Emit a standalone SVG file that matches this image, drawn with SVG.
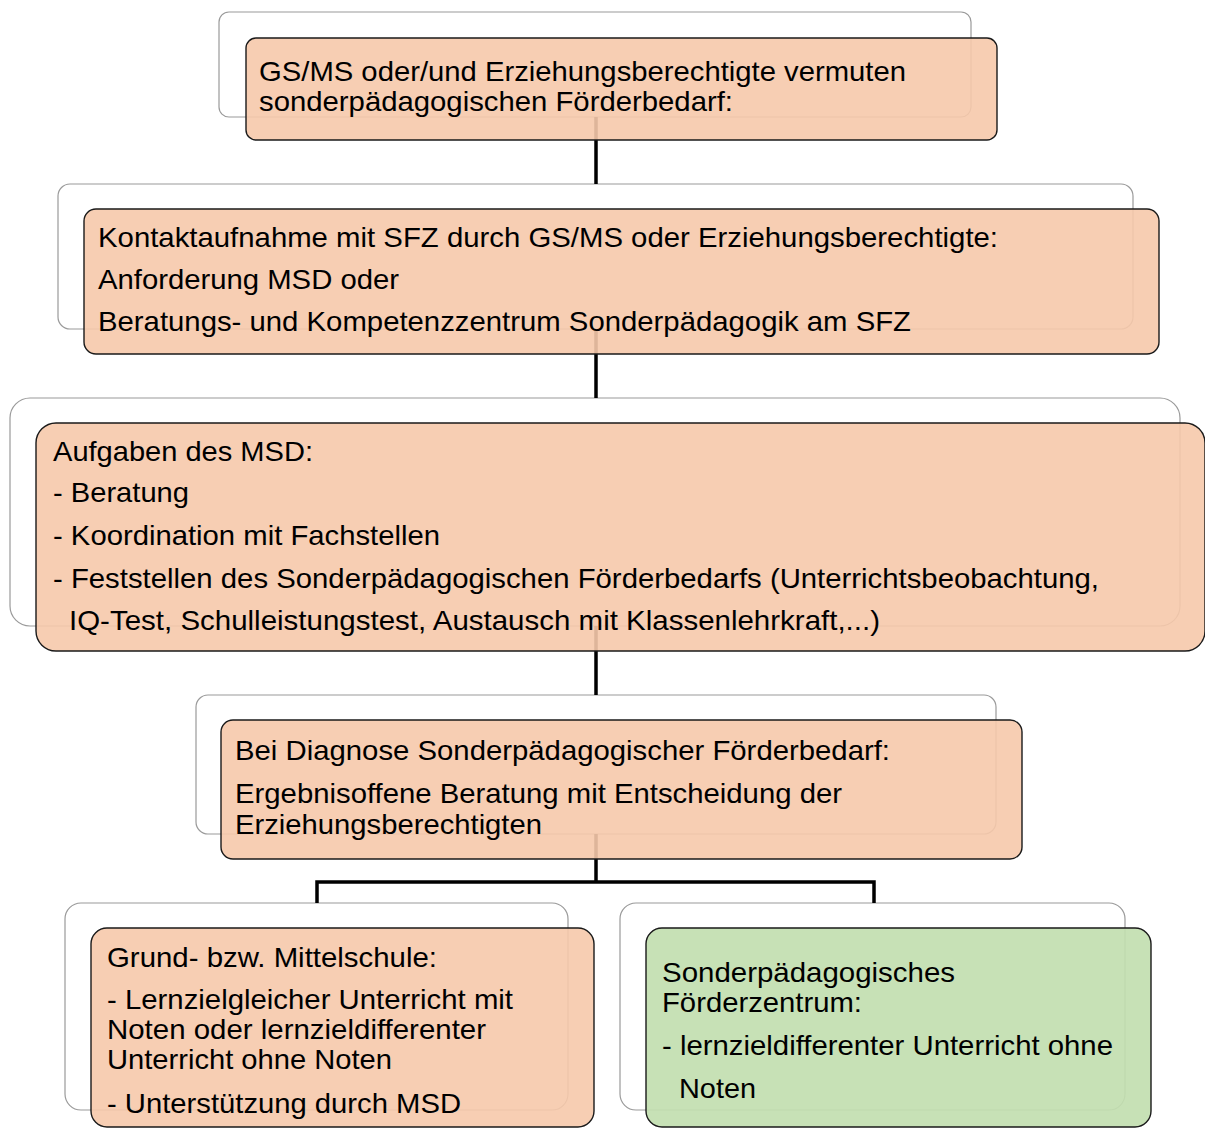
<svg xmlns="http://www.w3.org/2000/svg" width="1205" height="1128" viewBox="0 0 1205 1128">
  <style>
    .back { fill: #ffffff; stroke: #9a9a9a; stroke-width: 1.2; }
    .front { fill: #F6C9AB; fill-opacity: 0.9; stroke: #1a1a1a; stroke-width: 1.4; }
    .green { fill: #C2DEB0; fill-opacity: 0.92; stroke: #1a1a1a; stroke-width: 1.4; }
    .link { fill: none; stroke: #000000; stroke-width: 3.5; }
    text { font-family: "Liberation Sans", Arial, sans-serif; font-size: 28.5px; fill: #000000; }
  </style>

  <!-- background panels of every node -->
  <g id="panels">
    <rect class="back" x="219" y="12" width="752" height="105" rx="10"/>
    <rect class="back" x="58" y="184" width="1075" height="145" rx="12"/>
    <rect class="back" x="10" y="398" width="1170" height="228" rx="20"/>
    <rect class="back" x="196" y="695" width="800" height="139" rx="12"/>
    <rect class="back" x="65" y="903" width="503" height="207" rx="16"/>
    <rect class="back" x="620" y="903" width="505" height="207" rx="16"/>
  </g>

  <!-- connectors -->
  <g id="connectors">
    <line class="link" x1="596" y1="117" x2="596" y2="184"/>
    <line class="link" x1="596" y1="329" x2="596" y2="398"/>
    <line class="link" x1="596" y1="626" x2="596" y2="695"/>
    <polyline class="link" points="596,834 596,882"/>
    <polyline class="link" points="317,903 317,882 874,882 874,903"/>
  </g>

  <g id="node-verdacht">
    <rect class="front" x="246" y="38" width="751" height="102" rx="10"/>
    <text x="259" y="81" textLength="647" lengthAdjust="spacingAndGlyphs">GS/MS oder/und Erziehungsberechtigte vermuten</text>
    <text x="259" y="111" textLength="474" lengthAdjust="spacingAndGlyphs">sonderpädagogischen Förderbedarf:</text>
  </g>

  <g id="node-kontakt">
    <rect class="front" x="84" y="209" width="1075" height="145" rx="12"/>
    <text x="98" y="247" textLength="900" lengthAdjust="spacingAndGlyphs">Kontaktaufnahme mit SFZ durch GS/MS oder Erziehungsberechtigte:</text>
    <text x="98" y="289" textLength="301" lengthAdjust="spacingAndGlyphs">Anforderung MSD oder</text>
    <text x="98" y="331" textLength="813" lengthAdjust="spacingAndGlyphs">Beratungs- und Kompetenzzentrum Sonderpädagogik am SFZ</text>
  </g>

  <g id="node-msd">
    <rect class="front" x="36" y="423" width="1169" height="228" rx="20"/>
    <text x="53" y="461" textLength="260" lengthAdjust="spacingAndGlyphs">Aufgaben des MSD:</text>
    <text x="53" y="502" textLength="136" lengthAdjust="spacingAndGlyphs">- Beratung</text>
    <text x="53" y="545" textLength="387" lengthAdjust="spacingAndGlyphs">- Koordination mit Fachstellen</text>
    <text x="53" y="588" textLength="1046" lengthAdjust="spacingAndGlyphs">- Feststellen des Sonderpädagogischen Förderbedarfs (Unterrichtsbeobachtung,</text>
    <text x="69" y="630" textLength="811" lengthAdjust="spacingAndGlyphs">IQ-Test, Schulleistungstest, Austausch mit Klassenlehrkraft,...)</text>
  </g>

  <g id="node-diagnose">
    <rect class="front" x="221" y="720" width="801" height="139" rx="12"/>
    <text x="235" y="760" textLength="655" lengthAdjust="spacingAndGlyphs">Bei Diagnose Sonderpädagogischer Förderbedarf:</text>
    <text x="235" y="803" textLength="607" lengthAdjust="spacingAndGlyphs">Ergebnisoffene Beratung mit Entscheidung der</text>
    <text x="235" y="834" textLength="307" lengthAdjust="spacingAndGlyphs">Erziehungsberechtigten</text>
  </g>

  <g id="node-regelschule">
    <rect class="front" x="91" y="928" width="503" height="199" rx="16"/>
    <text x="107" y="967" textLength="330" lengthAdjust="spacingAndGlyphs">Grund- bzw. Mittelschule:</text>
    <text x="107" y="1009" textLength="406" lengthAdjust="spacingAndGlyphs">- Lernzielgleicher Unterricht mit</text>
    <text x="107" y="1039" textLength="379" lengthAdjust="spacingAndGlyphs">Noten oder lernzieldifferenter</text>
    <text x="107" y="1069" textLength="285" lengthAdjust="spacingAndGlyphs">Unterricht ohne Noten</text>
    <text x="107" y="1113" textLength="354" lengthAdjust="spacingAndGlyphs">- Unterstützung durch MSD</text>
  </g>

  <g id="node-foerderzentrum">
    <rect class="green" x="646" y="928" width="505" height="199" rx="16"/>
    <text x="662" y="982" textLength="293" lengthAdjust="spacingAndGlyphs">Sonderpädagogisches</text>
    <text x="662" y="1012" textLength="200" lengthAdjust="spacingAndGlyphs">Förderzentrum:</text>
    <text x="662" y="1055" textLength="451" lengthAdjust="spacingAndGlyphs">- lernzieldifferenter Unterricht ohne</text>
    <text x="679" y="1098" textLength="77" lengthAdjust="spacingAndGlyphs">Noten</text>
  </g>
</svg>
